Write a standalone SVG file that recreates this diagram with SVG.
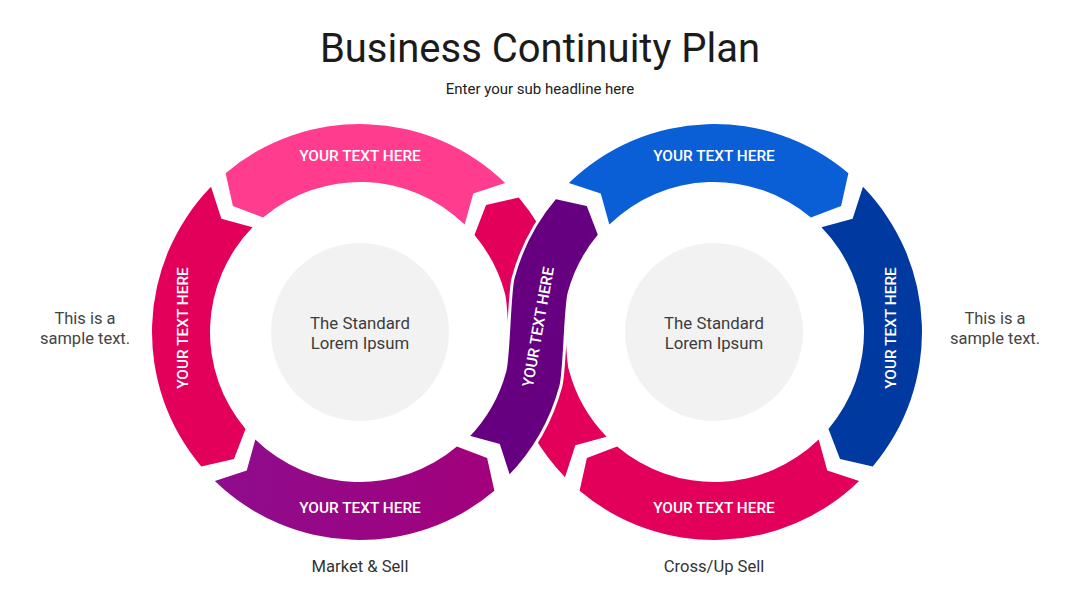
<svg xmlns="http://www.w3.org/2000/svg" xmlns:xlink="http://www.w3.org/1999/xlink" width="1080" height="608" viewBox="0 0 1080 608">
  <style>
    text { font-family: Roboto, "Liberation Sans", sans-serif; }
    .title { font-size: 40px; fill: #1b1b1b; text-anchor: middle; }
    .sub { font-size: 15px; fill: #222; text-anchor: middle; }
    .seg { font-size: 15.4px; font-weight: 500; fill: #ffffff; text-anchor: middle; }
    .core { font-size: 16.8px; fill: #3c3c3c; text-anchor: middle; }
    .side { font-size: 16.5px; fill: #444; text-anchor: middle; }
    .cap { font-size: 16.6px; fill: #333; text-anchor: middle; }
    .hub { fill: #f2f2f2; }
  </style>
  <defs>
    <linearGradient id="gMag" gradientUnits="userSpaceOnUse" x1="215" y1="0" x2="495" y2="0">
      <stop offset="0" stop-color="#8d0d8e"/>
      <stop offset="1" stop-color="#a3007b"/>
    </linearGradient>
    <path id="pTop" d="M225.61,173.25 A208,208 0 0 1 505.14,183.01 L473.25,193.39 L464.67,224.56 A150,150 0 0 0 263.08,217.51 L232.88,205.98 Z"/>
    <path id="pLeft" d="M201.25,466.39 A208,208 0 0 1 211.01,186.86 L221.38,218.75 L252.56,227.33 A150,150 0 0 0 245.52,428.92 L233.98,459.12 Z"/>
    <path id="pBottom" d="M494.39,490.75 A208,208 0 0 1 214.86,480.99 L246.75,470.61 L255.33,439.45 A150,150 0 0 0 456.92,446.49 L487.12,458.02 Z"/>
    <path id="pStrand" d="M555.25,197.61 L587.98,204.88 L599.52,235.08 A150,150 0 0 0 569.11,293.18 C565.23,307.67 564.79,371.34 560.91,385.83 A208,208 0 0 1 508.99,477.14 L498.62,445.25 L467.45,436.67 A150,150 0 0 0 504.89,370.82 C508.77,356.33 509.21,292.66 513.09,278.17 A208,208 0 0 1 555.25,197.61 Z"/>
  </defs>

  <g id="header">
    <text class="title" x="540" y="62">Business Continuity Plan</text>
    <text class="sub" x="540" y="94">Enter your sub headline here</text>
  </g>

  <!-- Left ring -->
  <g id="left-top">
    <use xlink:href="#pTop" fill="#ff3c8d"/>
    <text class="seg" x="360" y="161">YOUR TEXT HERE</text>
  </g>
  <g id="left-left">
    <use xlink:href="#pLeft" fill="#e3005b"/>
    <text class="seg" transform="translate(183,328) rotate(-90)" x="0" y="5.4">YOUR TEXT HERE</text>
  </g>
  <g id="left-bottom">
    <use xlink:href="#pBottom" fill="url(#gMag)"/>
    <text class="seg" x="360" y="513">YOUR TEXT HERE</text>
  </g>

  <!-- Right ring -->
  <g id="right-top">
    <use xlink:href="#pTop" fill="#0a5fd6" transform="matrix(-1 0 0 1 1074 0)"/>
    <text class="seg" x="714" y="161">YOUR TEXT HERE</text>
  </g>
  <g id="right-right">
    <use xlink:href="#pLeft" fill="#0039a0" transform="matrix(-1 0 0 1 1074 0)"/>
    <text class="seg" transform="translate(891,328) rotate(-90)" x="0" y="5.4">YOUR TEXT HERE</text>
  </g>
  <g id="right-bottom">
    <use xlink:href="#pBottom" fill="#e3005b" transform="matrix(-1 0 0 1 1074 0)"/>
    <text class="seg" x="714" y="513">YOUR TEXT HERE</text>
  </g>

  <!-- Crossing strands -->
  <g id="cross-under">
    <use xlink:href="#pStrand" fill="#e3005b" transform="matrix(-1 0 0 1 1074 0)"/>
  </g>
  <g id="cross-over">
    <use xlink:href="#pStrand" fill="#660080" stroke="#ffffff" stroke-width="3" stroke-linejoin="round"/>
    <text class="seg" transform="translate(538,327) rotate(-80)" x="0" y="5.4">YOUR TEXT HERE</text>
  </g>

  <!-- Hubs -->
  <g id="hub-left">
    <circle class="hub" cx="360" cy="332" r="89"/>
    <text class="core" x="360" y="329">The Standard</text>
    <text class="core" x="360" y="349">Lorem Ipsum</text>
  </g>
  <g id="hub-right">
    <circle class="hub" cx="714" cy="332" r="89"/>
    <text class="core" x="714" y="329">The Standard</text>
    <text class="core" x="714" y="349">Lorem Ipsum</text>
  </g>

  <g id="side-left">
    <text class="side" x="85" y="324">This is a</text>
    <text class="side" x="85" y="344">sample text.</text>
  </g>
  <g id="side-right">
    <text class="side" x="995" y="324">This is a</text>
    <text class="side" x="995" y="344">sample text.</text>
  </g>

  <g id="caption-left">
    <text class="cap" x="360" y="572">Market &amp; Sell</text>
  </g>
  <g id="caption-right">
    <text class="cap" x="714" y="572">Cross/Up Sell</text>
  </g>
</svg>
